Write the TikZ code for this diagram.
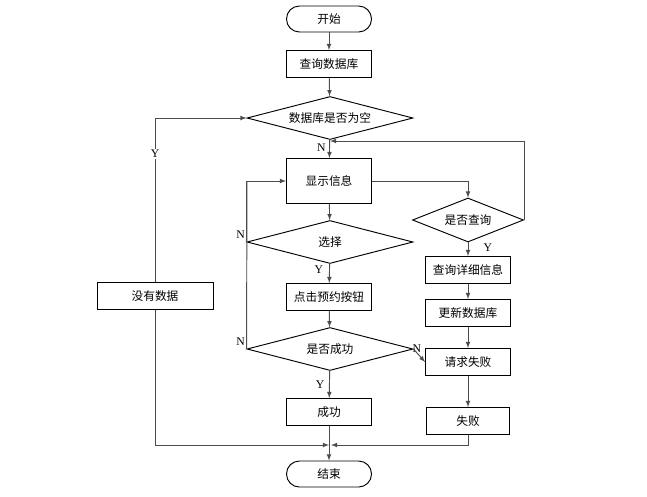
\documentclass[tikz,border=0pt]{standalone}
\usepackage{fontspec}
\setmainfont{Liberation Serif}
\newfontfamily\cjk{Noto Sans CJK SC}
\usetikzlibrary{shapes,arrows,positioning,calc}

\begin{document}
\begin{tikzpicture}[x=0.03cm,y=-0.03cm,
    font=\cjk\fontsize{10}{12}\selectfont,
    >=latex,
    box/.style={draw,thick,minimum width=2.55cm,minimum height=0.81cm,inner sep=1pt},
    term/.style={box,rounded corners=11pt,minimum height=0.78cm},
    decide/.style={draw,thick,diamond,aspect=3.86,minimum width=4.98cm,minimum height=1.29cm,inner sep=0pt},
    link/.style={draw=black!70,thick,->},
    wire/.style={draw=black!70,thick},
    lab/.style={font=\rmfamily\fontsize{10}{12}\selectfont,inner sep=1pt}]
  \useasboundingbox (0,0) rectangle (647,496);
  % main column
  \node[term] (start) at (329,19) {开始};
  \node[box] (query) at (329,64) {查询数据库};
  \node[decide] (empty) at (330,118) {数据库是否为空};
  \node[box,minimum height=1.35cm] (show) at (329,181) {显示信息};
  \node[decide] (choose) at (330,242) {选择};
  \node[box] (click) at (329,297) {点击预约按钮};
  \node[decide] (ok) at (330,349) {是否成功};
  \node[box] (done) at (329,412) {成功};
  \node[term] (stop) at (329,474) {结束};
  % right column
  \node[draw,thick,diamond,aspect=2.5,minimum width=3.33cm,minimum height=1.32cm,inner sep=0pt] (ask) at (468,220) {是否查询};
  \node[box] (detail) at (468,270) {查询详细信息};
  \node[box] (update) at (468,313) {更新数据库};
  \node[box] (req) at (468,362) {请求失败};
  \node[box,minimum width=2.49cm] (fail) at (468,421) {失败};
  % left column
  \node[box,minimum width=3.48cm] (nodata) at (155,296) {没有数据};
  % junctions
  \coordinate (back) at (330,141);
  \coordinate (joinl) at (329,445);
  \coordinate (joinr) at (331,445);
  \coordinate (loop) at (247,181);
  % connectors
  \draw[link] (start) -- (query);
  \draw[link] (query) -- (empty);
  \draw[link] (empty) -- node[lab,left,pos=0.45,xshift=-2pt] {N} (show);
  \draw[link] (show) -- (choose);
  \draw[link] (choose) -- node[lab,left,pos=0.3,xshift=-4pt] {Y} (click);
  \draw[link] (click) -- (ok);
  \draw[link] (ok) -- node[lab,left,pos=0.5,xshift=-3pt] {Y} (done);
  \draw[link] (done) -- (stop);
  \draw[link] (show.east) -| (ask.north);
  \draw[link] (ask.east) |- (back);
  \draw[link] (ask) -- node[lab,right,pos=0.35,xshift=12pt] {Y} (detail);
  \draw[link] (detail) -- (update);
  \draw[link] (update) -- (req);
  \draw[link] (ok.east) -- node[lab,above=-1pt,pos=0.3] {N} (req.west);
  \draw[link] (req) -- (fail);
  \draw[link] (fail.south) |- (joinr);
  \draw[link] (choose.west) |- node[lab,anchor=south east,pos=0,yshift=2pt] {N} (show.west);
  \draw[wire] (ok.west) -- node[lab,anchor=south east,pos=0,yshift=2pt] {N} (loop);
  \draw[link] (nodata.north) |- node[lab,fill=white,pos=0.39] {Y} (empty.west);
  \draw[link] (nodata.south) |- (joinl);
\end{tikzpicture}
\end{document}
